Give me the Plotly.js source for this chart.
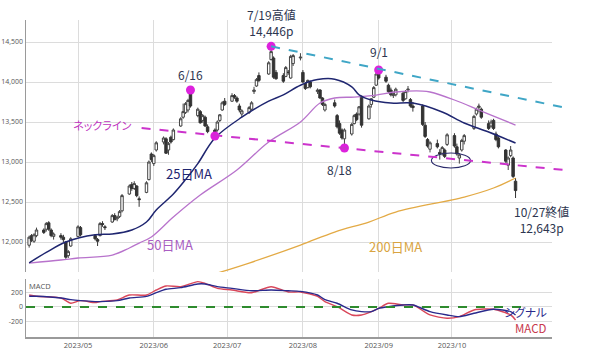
<!DOCTYPE html>
<html><head><meta charset="utf-8">
<script src="https://cdn.plot.ly/plotly-3.0.1.min.js"></script>
<style>
html,body{margin:0;padding:0;background:#fff}
#chart{width:600px;height:349px}
svg text{font-feature-settings:"palt" 1;}
</style>
</head><body><div id="chart"></div>
<script>
// ---- Candles (daily OHLC) ----
const dates = ['2023-04-11','2023-04-12','2023-04-13','2023-04-14','2023-04-17','2023-04-18','2023-04-19','2023-04-20','2023-04-21','2023-04-24','2023-04-25','2023-04-26','2023-04-27','2023-04-28',
'2023-05-01','2023-05-02','2023-05-08','2023-05-09','2023-05-10','2023-05-11','2023-05-12','2023-05-15','2023-05-16','2023-05-17','2023-05-18','2023-05-19','2023-05-22','2023-05-23','2023-05-24','2023-05-25','2023-05-26','2023-05-29','2023-05-30','2023-05-31',
'2023-06-01','2023-06-02','2023-06-05','2023-06-06','2023-06-07','2023-06-08','2023-06-09','2023-06-12','2023-06-13','2023-06-14','2023-06-15','2023-06-16','2023-06-19','2023-06-20','2023-06-21','2023-06-22','2023-06-23','2023-06-26','2023-06-27','2023-06-28','2023-06-29','2023-06-30',
'2023-07-03','2023-07-04','2023-07-05','2023-07-06','2023-07-07','2023-07-10','2023-07-11','2023-07-12','2023-07-13','2023-07-14','2023-07-18','2023-07-19','2023-07-20','2023-07-21','2023-07-24','2023-07-25','2023-07-26','2023-07-27','2023-07-28','2023-07-31',
'2023-08-01','2023-08-02','2023-08-03','2023-08-04','2023-08-07','2023-08-08','2023-08-09','2023-08-10','2023-08-14','2023-08-15','2023-08-16','2023-08-17','2023-08-18','2023-08-21','2023-08-22','2023-08-23','2023-08-24','2023-08-25','2023-08-28','2023-08-29','2023-08-30','2023-08-31',
'2023-09-01','2023-09-04','2023-09-05','2023-09-06','2023-09-07','2023-09-08','2023-09-11','2023-09-12','2023-09-13','2023-09-14','2023-09-15','2023-09-19','2023-09-20','2023-09-21','2023-09-22','2023-09-25','2023-09-26','2023-09-27','2023-09-28','2023-09-29',
'2023-10-02','2023-10-03','2023-10-04','2023-10-05','2023-10-06','2023-10-10','2023-10-11','2023-10-12','2023-10-13','2023-10-16','2023-10-17','2023-10-18','2023-10-19','2023-10-20','2023-10-23','2023-10-24','2023-10-25','2023-10-26','2023-10-27'];
const opens = [11960,12080,12010,12080,12150,12160,12240,12150,12070,12080,12060,12000,11830,11950,
12070,12180,12080,12030,12080,12230,12190,12250,12330,12290,12320,12390,12600,12720,12670,12700,12540,12620,12780,13100,
12980,13150,13250,13290,13150,13310,13280,13450,13560,13620,13650,13850,13580,13630,13520,13560,13440,13400,13400,13520,13650,13760,
13760,13830,13800,13700,13600,13620,13660,13880,13950,14080,14100,14280,14300,14120,14080,14070,14120,14050,14230,14300,
14120,13980,13930,14000,13880,13900,13800,13650,13740,13580,13480,13400,13290,13350,13480,13600,13600,13820,13540,13720,13810,13960,
14120,14060,13960,13900,13830,13840,13860,13790,13900,13780,13700,13700,13460,13280,13160,13230,13120,13110,13150,13220,
13330,13190,13050,13150,13260,13420,13600,13680,13660,13480,13450,13520,13350,13300,13150,12960,13080,13050,12760];
const highs = [12080,12100,12110,12180,12170,12250,12260,12170,12120,12110,12090,12010,11900,12060,
12210,12200,12100,12050,12250,12260,12210,12350,12360,12330,12400,12600,12720,12750,12760,12710,12570,12760,13020,13120,
13100,13260,13320,13310,13250,13330,13420,13560,13730,13750,13790,13900,13680,13650,13600,13580,13470,13420,13520,13600,13760,13800,
13860,13850,13820,13730,13660,13700,13760,13940,14050,14120,14260,14446,14320,14150,14110,14200,14150,14340,14350,14360,
14150,14000,14030,14020,13920,13910,13810,13740,13780,13600,13520,13420,13420,13490,13600,13620,13700,13830,13720,13800,13950,14110,
14150,14090,13980,13930,13880,13930,13880,13900,13950,13800,13750,13720,13500,13300,13260,13280,13160,13200,13170,13360,
13360,13230,13110,13290,13350,13590,13680,13730,13680,13520,13530,13540,13380,13320,13160,13070,13200,13070,12800];
const lows = [11930,12000,11990,12060,12100,12130,12140,12060,12030,12030,12000,11790,11800,11940,
12060,12070,12020,11950,12070,12190,12150,12240,12270,12260,12300,12370,12590,12640,12650,12560,12440,12610,12770,13000,
12950,13130,13220,13100,13090,13230,13270,13440,13540,13600,13620,13680,13560,13480,13490,13440,13360,13325,13380,13500,13640,13700,
13750,13790,13740,13620,13560,13600,13650,13850,13940,14000,14090,14270,14040,14030,13990,14060,14090,14040,14200,14270,
13990,13900,13920,13920,13850,13790,13700,13630,13680,13420,13340,13280,13175,13330,13470,13510,13580,13430,13530,13680,13800,13950,
14030,13990,13860,13820,13800,13820,13750,13780,13870,13680,13630,13450,13300,13180,13120,13170,13030,13080,13050,13200,
13180,13080,12980,13130,13220,13400,13580,13620,13540,13400,13430,13400,13260,13170,12990,12900,13060,12800,12550];
const closes = [12060,12020,12090,12150,12120,12230,12160,12080,12100,12060,12030,11810,11880,12040,
12190,12090,12040,12010,12230,12220,12180,12330,12280,12310,12380,12580,12700,12670,12730,12580,12530,12740,13000,13030,
13080,13240,13300,13110,13230,13250,13400,13540,13630,13730,13770,13700,13660,13490,13580,13450,13380,13360,13500,13590,13740,13720,
13830,13810,13760,13650,13640,13680,13740,13900,14030,14020,14240,14380,14060,14040,14010,14180,14120,14320,14330,14310,
14000,13920,14020,13940,13900,13800,13720,13720,13700,13440,13360,13300,13400,13470,13580,13530,13690,13460,13700,13790,13930,14100,
14050,14010,13880,13840,13850,13910,13770,13880,13910,13700,13680,13470,13320,13200,13240,13190,13100,13180,13070,13340,
13200,13100,13090,13270,13330,13570,13660,13700,13560,13420,13500,13420,13280,13190,13010,13050,13150,12820,12643];

// ---- Moving averages (read at sample dates) ----
const ma25Dates = ['2023-04-11','2023-04-18','2023-04-26','2023-05-08','2023-05-15','2023-05-23','2023-05-29','2023-06-02','2023-06-09','2023-06-14','2023-06-19','2023-06-26','2023-07-07','2023-07-18','2023-07-24','2023-07-31','2023-08-07','2023-08-14','2023-08-21','2023-08-24','2023-08-29','2023-09-06','2023-09-15','2023-09-27','2023-10-06','2023-10-16','2023-10-27'];
const ma25Values = [11740,11870,12000,12090,12100,12150,12250,12400,12600,12780,12980,13300,13560,13760,13840,13960,14030,14035,13940,13840,13775,13737,13737,13625,13487,13375,13237];
const ma50Dates = ['2023-04-11','2023-04-24','2023-05-01','2023-05-15','2023-05-22','2023-05-26','2023-05-31','2023-06-09','2023-06-20','2023-07-05','2023-07-18','2023-07-31','2023-08-08','2023-08-14','2023-08-22','2023-08-31','2023-09-08','2023-09-19','2023-09-22','2023-10-02','2023-10-12','2023-10-17','2023-10-27'];
const ma50Values = [11737,11775,11800,11837,11925,11987,12062,12312,12587,12900,13250,13500,13737,13800,13812,13837,13875,13887,13875,13775,13650,13587,13462];
const ma200Dates = ['2023-06-27','2023-07-10','2023-07-31','2023-08-14','2023-08-28','2023-09-08','2023-10-06','2023-10-18','2023-10-27'];
const ma200Values = [11612,11737,11962,12125,12250,12375,12562,12675,12800];

// ---- Marked highs / lows ----
const markDates = ['2023-06-16','2023-06-26','2023-07-19','2023-08-18','2023-09-01'];
const markPrices = [13900,13325,14446,13175,14150];

// ---- Trend lines ----
const necklineDates = ['2023-05-27','2023-11-16'];
const necklinePrices = [13425,12900];
const resistDates = ['2023-07-19','2023-11-16'];
const resistPrices = [14446,13680];

// ---- MACD panel ----
const macdDates = ['2023-04-11','2023-04-14','2023-04-24','2023-04-28','2023-05-02','2023-05-08','2023-05-10','2023-05-17','2023-05-22','2023-05-29','2023-06-02','2023-06-06','2023-06-12','2023-06-19','2023-06-22','2023-06-27','2023-07-03','2023-07-11','2023-07-19','2023-07-26','2023-07-31','2023-08-07','2023-08-10','2023-08-15','2023-08-21','2023-08-25','2023-08-29','2023-09-01','2023-09-05','2023-09-11','2023-09-15','2023-09-22','2023-09-29','2023-10-04','2023-10-10','2023-10-18','2023-10-25','2023-10-27'];
const macdValues = [165,147,124,51,87,60,74,97,165,165,234,290,280,349,326,257,234,197,280,207,207,147,74,5,-110,-110,-64,-19,51,28,28,-110,-156,-133,-41,-32,-110,-179];
const signalValues = [147,147,124,101,87,74,74,87,124,147,197,244,267,317,317,280,257,224,234,224,215,165,101,51,-41,-64,-64,-19,5,28,28,-64,-110,-133,-87,-32,-64,-110];

// ---- Axis ticks ----
const priceTicks = [12000,12500,13000,13500,14000,14500];
const macdTicks = [-200,0,200];
const macdTickText = ['-200','0','200'];
const monthTicks = ['2023-05-01','2023-06-01','2023-07-01','2023-08-01','2023-09-01','2023-10-01'];
const monthTickText = ['2023/05','2023/06','2023/07','2023/08','2023/09','2023/10'];

const JP = '"Noto Sans CJK JP", "Noto Sans", sans-serif';
const gd = document.getElementById('chart');

const traces = [
  {type:'candlestick', x:dates, open:opens, high:highs, low:lows, close:closes, xaxis:'x', yaxis:'y',
   increasing:{line:{color:'#444', width:1}, fillcolor:'#ffffff'},
   decreasing:{line:{color:'#333', width:1}, fillcolor:'#333333'},
   whiskerwidth:0, hoverinfo:'skip'},
  {type:'scatter', mode:'lines', x:ma200Dates, y:ma200Values, line:{color:'#e3aa45', width:1.3, shape:'spline'}, xaxis:'x', yaxis:'y', hoverinfo:'skip'},
  {type:'scatter', mode:'lines', x:ma50Dates, y:ma50Values, line:{color:'#b873cc', width:1.3, shape:'spline'}, xaxis:'x', yaxis:'y', hoverinfo:'skip'},
  {type:'scatter', mode:'lines', x:ma25Dates, y:ma25Values, line:{color:'#1f2670', width:1.5, shape:'spline'}, xaxis:'x', yaxis:'y', hoverinfo:'skip'},
  {type:'scatter', mode:'markers', x:markDates, y:markPrices, marker:{color:'#dd22dd', size:9}, cliponaxis:false, xaxis:'x', yaxis:'y', hoverinfo:'skip'},
  {type:'scatter', mode:'lines', x:macdDates, y:macdValues, line:{color:'#d9475a', width:1.4, shape:'spline', smoothing:0.7}, xaxis:'x', yaxis:'y2', hoverinfo:'skip'},
  {type:'scatter', mode:'lines', x:macdDates, y:signalValues, line:{color:'#2a2a8c', width:1.4, shape:'spline', smoothing:0.7}, xaxis:'x', yaxis:'y2', hoverinfo:'skip'}
];

const labelColor = '#2d3650';
const annotations = [
  {x:'2023-07-19', y:14446, xref:'x', yref:'y', text:'7/19高値<br>14,446p', showarrow:false, yshift:24, font:{family:JP, size:12, color:labelColor}},
  {x:'2023-06-16', y:13900, xref:'x', yref:'y', text:'6/16', showarrow:false, yshift:16, font:{family:JP, size:12, color:labelColor}},
  {x:'2023-09-01', y:14150, xref:'x', yref:'y', text:'9/1', showarrow:false, yshift:19, font:{family:JP, size:12, color:labelColor}},
  {x:'2023-08-18', y:13175, xref:'x', yref:'y', text:'8/18', showarrow:false, xshift:-5, yshift:-21, font:{family:JP, size:12, color:labelColor}},
  {x:'2023-10-27', y:12643, xref:'x', yref:'y', text:'10/27終値<br>12,643p', showarrow:false, xshift:26, yshift:-29, font:{family:JP, size:12, color:labelColor}},
  {x:'2023-05-10 20:00', y:13462, xref:'x', yref:'y', text:'ネックライン', showarrow:false, font:{family:JP, size:11, color:'#c035c0'}},
  {x:'2023-06-15 05:00', y:12862, xref:'x', yref:'y', text:'25日MA', showarrow:false, font:{family:JP, size:13, color:'#1f2670'}},
  {x:'2023-06-07 15:00', y:11975, xref:'x', yref:'y', text:'50日MA', showarrow:false, font:{family:JP, size:13, color:'#a95ec2'}},
  {x:'2023-09-07 22:00', y:11950, xref:'x', yref:'y', text:'200日MA', showarrow:false, font:{family:JP, size:13, color:'#d9a441'}},
  {x:0.002, y:1, xref:'paper', yref:'y2 domain', xanchor:'left', yanchor:'top', text:'MACD', showarrow:false, font:{family:'"Open Sans", sans-serif', size:7.5, color:'#555'}},
  {x:0.9943, y:-70, xref:'paper', yref:'y2', text:'シグナル', showarrow:false, font:{family:JP, size:11.5, color:'#2a2a8c'}},
  {x:0.9943, y:-290, xref:'paper', yref:'y2', text:'MACD', showarrow:false, font:{family:JP, size:11.5, color:'#c8384c'}}
];

const baseShapes = [
  {type:'circle', xref:'x', yref:'y', x0:'2023-09-22 14:00', x1:'2023-10-08 14:00', y0:12925, y1:13112, line:{color:'#2b2b6b', width:1.1}},
  {type:'line', xref:'x', yref:'y2', x0:'2023-04-09 17:00', x1:'2023-11-01', y0:0, y1:0, line:{color:'#2e8b2e', width:2, dash:'dash'}}
];

const gridC = '#dcdcdc';
const layout = {
  width:600, height:349,
  margin:{l:26, r:48, t:20, b:12},
  paper_bgcolor:'#ffffff', plot_bgcolor:'#ffffff',
  showlegend:false,
  boxgap:0, boxgroupgap:0,
  font:{family:'"Open Sans", sans-serif', size:7.5, color:'#555'},
  xaxis:{type:'date', range:['2023-04-09 17:00','2023-11-10 22:00'], anchor:'y2', tickmode:'array', tickvals:monthTicks, ticktext:monthTickText,
    showgrid:true, gridcolor:gridC, gridwidth:1, showline:true, linecolor:'#9a9a9a', linewidth:2,
    ticks:'', tickfont:{size:7.5, color:'#555'}, rangeslider:{visible:false}, zeroline:false},
  yaxis:{domain:[0.205,1], range:[11625,14775], anchor:'x', tickvals:priceTicks, tickformat:',', showgrid:true, gridcolor:gridC,
    showline:true, linecolor:'#9a9a9a', linewidth:1.5, zeroline:false, ticks:'', tickfont:{size:7, color:'#555'}},
  yaxis2:{domain:[0,0.183], range:[-414,386], anchor:'x', tickvals:macdTicks, ticktext:macdTickText, showgrid:true, gridcolor:gridC,
    showline:true, linecolor:'#9a9a9a', linewidth:1.5, zeroline:false, ticks:'', tickfont:{size:7, color:'#555'}},
  annotations:annotations,
  shapes:baseShapes
};

Plotly.newPlot(gd, traces, layout, {staticPlot:true, displayModeBar:false}).then(function(){
  const fl = gd._fullLayout, xa = fl.xaxis, ya = fl.yaxis, s = fl._size;
  function toPaper(d, p){
    const px = xa._offset + xa.l2p(xa.d2l(d));
    const py = ya._offset + ya.l2p(ya.d2l(p));
    return [(px - s.l)/s.w, 1 - (py - s.t)/s.h];
  }
  const n0 = toPaper(necklineDates[0], necklinePrices[0]), n1 = toPaper(necklineDates[1], necklinePrices[1]);
  const r0 = toPaper(resistDates[0], resistPrices[0]), r1 = toPaper(resistDates[1], resistPrices[1]);
  const shapes = baseShapes.concat([
    {type:'line', xref:'paper', yref:'paper', x0:n0[0], y0:n0[1], x1:n1[0], y1:n1[1], line:{color:'#cc33cc', width:2, dash:'dash'}},
    {type:'line', xref:'paper', yref:'paper', x0:r0[0], y0:r0[1], x1:r1[0], y1:r1[1], line:{color:'#3fa6c6', width:2, dash:'dash'}}
  ]);
  return Plotly.relayout(gd, {shapes:shapes});
});
</script>
</body></html>
